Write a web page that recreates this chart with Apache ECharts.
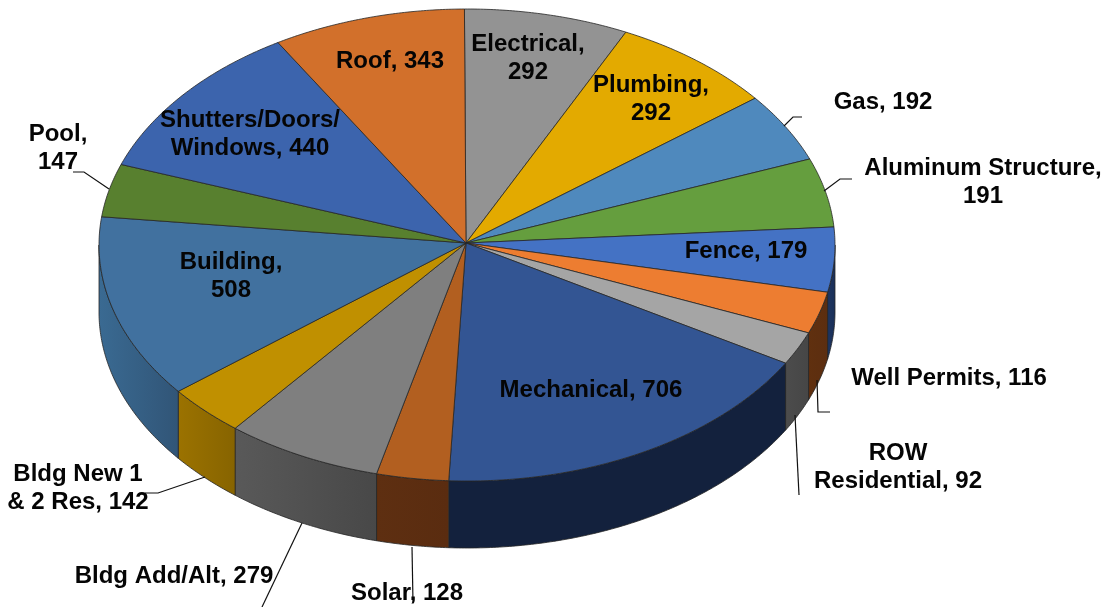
<!DOCTYPE html>
<html><head><meta charset="utf-8">
<style>html,body{margin:0;padding:0;background:#fff}#c{width:1110px;height:607px}</style>
<script src="https://cdn.jsdelivr.net/npm/echarts@6/dist/echarts.min.js"></script>
</head><body><div id="c"></div>
<script>
// ---- data ----
const categories = ['Electrical','Plumbing','Gas','Aluminum Structure','Fence','Well Permits','ROW Residential','Mechanical','Solar','Bldg Add/Alt','Bldg New 1 & 2 Res','Building','Pool','Shutters/Doors/Windows','Roof'];
const permits = [292,292,192,191,179,116,92,706,128,279,142,508,147,440,343];
const labelLines = [['Electrical,','292'],['Plumbing,','292'],['Gas, 192'],['Aluminum Structure,','191'],['Fence, 179'],['Well Permits, 116'],['ROW','Residential, 92'],['Mechanical, 706'],['Solar, 128'],['Bldg Add/Alt, 279'],['Bldg New 1','& 2 Res, 142'],['Building,','508'],['Pool,','147'],['Shutters/Doors/','Windows, 440'],['Roof, 343']];
// ---- styles ----
const topColors = ['#939393','#e3aa00','#4f89bd','#659e3e','#4472c4','#ed7d31','#a5a5a5','#335593','#b25f20','#7f7f7f','#c09000','#41719f','#58802f','#3c64ad','#d2702b'];
const wallColors = [null,null,null,null,['#1e3560','#1a2f58'],['#60300f','#5c2e10'],['#4c4c4c','#464646'],['#13213d','#13213d'],['#5e2f11','#5a2c10'],['#595959','#484848'],['#9b7200','#876400'],['#3a6a92','#315577'],null,null,null];
// ---- layout (pixels) ----
const geo = {cx:467, cy:245, rx:368, ry:236, apexX:466, apexY:243, depth:67, start:-0.4};
const labelAt = [[528,44],[651,85],[883,102],[983,168],[746,251],[949,378],[898,453],[591,390],[407,593],[174,576],[78,474],[231,262],[58,134],[250,120],[390,61]];
const leaders = [null,null,[[784,126],[793,117],[802,117]],[[824,191],[840,179],[852,179]],null,[[817,380],[818,412],[830,412]],[[795,415],[799,495]],null,[[412,547],[413,603]],[[302,523],[262,607]],[[205,477],[158,493],[145,493]],null,[[109,189],[84,172],[73,172]],null,null];

const total = permits.reduce((a,b)=>a+b,0);
const edges = [0];
permits.forEach(v=>edges.push(edges[edges.length-1]+v));
const ang = i => geo.start + edges[i]/total*360;
const pt = (deg,dy) => {const r=deg*Math.PI/180;return [geo.cx+geo.rx*Math.sin(r), geo.cy-geo.ry*Math.cos(r)+(dy||0)];};
const arc = (a,b,dy) => {const n=Math.max(2,Math.ceil((b-a)*2)),o=[];for(let k=0;k<=n;k++)o.push(pt(a+(b-a)*k/n,dy));return o;};
const seriesData = permits.map((v,i)=>({name:categories[i],value:[v]}));
const edgeLine = {stroke:'#262626',lineWidth:0.8};

function renderWall(p){
  const i=p.dataIndex,a=Math.max(ang(i),90),b=Math.min(ang(i+1),270);
  if(a>=b||!wallColors[i])return null;
  const t=arc(a,b,0),u=arc(a,b,geo.depth).reverse(),pts=t.concat(u);
  const xs=pts.map(q=>q[0]),x0=Math.min(...xs),x1=Math.max(...xs);
  return {type:'polygon',shape:{points:pts},style:{...edgeLine,fill:new echarts.graphic.LinearGradient(x0,0,x1,0,[{offset:0,color:wallColors[i][0]},{offset:1,color:wallColors[i][1]}],true)}};
}
function renderTop(p){
  const i=p.dataIndex;
  return {type:'polygon',shape:{points:[[geo.apexX,geo.apexY]].concat(arc(ang(i),ang(i+1),0))},style:{...edgeLine,fill:topColors[i]}};
}
function renderNote(p){
  const i=p.dataIndex,kids=[];
  if(leaders[i])kids.push({type:'polyline',shape:{points:leaders[i]},style:{stroke:'#111',lineWidth:1.2,fill:null}});
  kids.push({type:'text',style:{text:labelLines[i].join('\n'),x:labelAt[i][0],y:labelAt[i][1]-14,align:'center',verticalAlign:'top',fill:'#050505',font:'bold 24px "Liberation Sans", Arial, sans-serif',lineHeight:28}});
  return {type:'group',children:kids};
}
const chart = echarts.init(document.getElementById('c'),null,{renderer:'canvas'});
chart.setOption({animation:false,backgroundColor:'#fff',
  series:[
   {type:'custom',coordinateSystem:'none',renderItem:renderWall,data:seriesData,z:1,silent:true},
   {type:'custom',coordinateSystem:'none',renderItem:renderTop,data:seriesData,z:2,silent:true},
   {type:'custom',coordinateSystem:'none',renderItem:renderNote,data:seriesData,z:3,silent:true}
  ]});
</script></body></html>
